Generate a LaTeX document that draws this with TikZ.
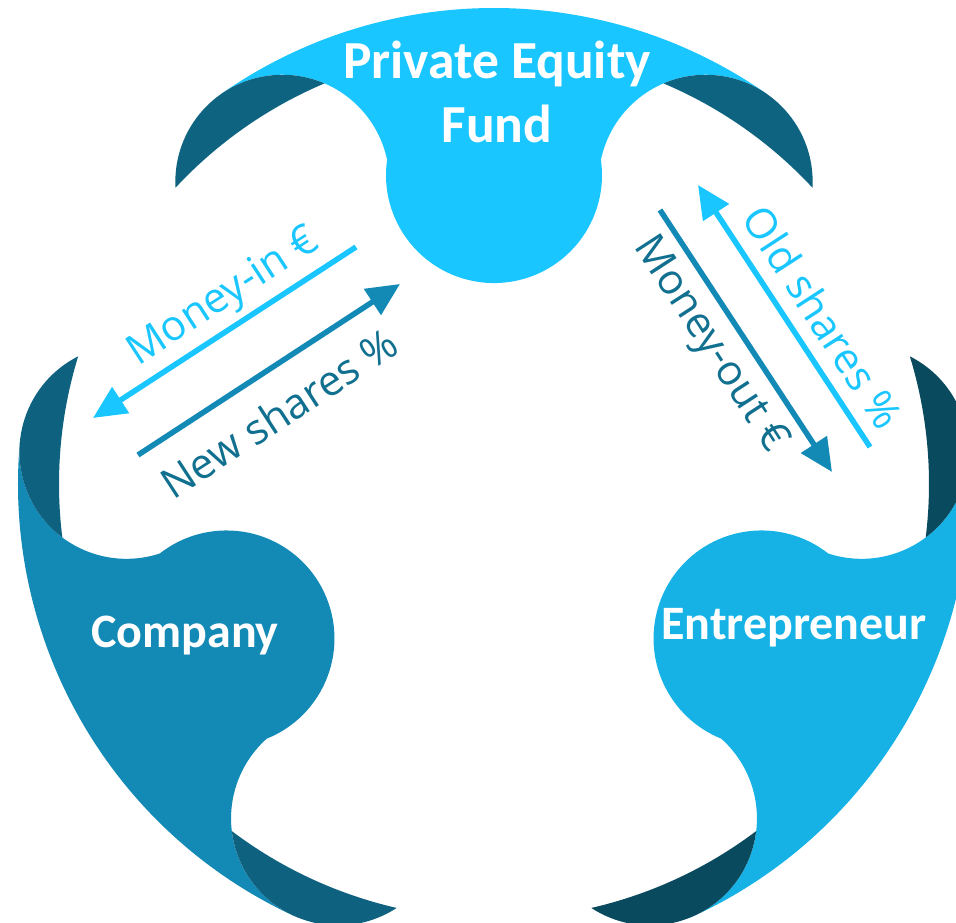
\documentclass[tikz,border=0pt]{standalone}
\usepackage{fontspec}
\setmainfont{Carlito}
\newfontfamily\flowfont{Open Sans}
\usetikzlibrary{calc,arrows.meta}
\definecolor{peLight}{HTML}{1AC6FF}
\definecolor{peDark}{HTML}{0E6380}
\definecolor{coLight}{HTML}{1389B5}
\definecolor{coDark}{HTML}{0E6280}
\definecolor{enLight}{HTML}{17B2E5}
\definecolor{enDark}{HTML}{0A4A5E}
\definecolor{txtTeal}{HTML}{11708F}
\newcommand{\ringpiece}[3]{%
  \fill[#2] ($(C)+({#1-35}:476)$) arc[start angle={#1-35}, end angle={#1+35}, radius=476]
    arc[start angle={#1+35}, end angle={#1-78.2}, radius=107]
    arc[start angle={#1+81.9}, end angle={#1+278.1}, radius=108]
    arc[start angle={#1+78.2}, end angle={#1-35}, radius=107] -- cycle;
  \fill[#3] ($(C)+({#1+22.93}:435)$) arc[start angle={#1+22.93}, end angle={#1+47.07}, radius=435]
    arc[start angle={#1+93.2}, end angle={#1-23.2}, radius=107] -- cycle;
  \fill[#3] ($(C)+({#1-22.93}:435)$) arc[start angle={#1-22.93}, end angle={#1-47.07}, radius=435]
    arc[start angle={#1-93.2}, end angle={#1+23.2}, radius=107] -- cycle;
}
\tikzset{
  nodelbl/.style={text=white, font=\bfseries\fontsize{48}{48}\selectfont, inner sep=0pt, anchor=base},
  pelbl/.style={nodelbl, font=\bfseries\fontsize{53.5}{53.5}\selectfont},
  flowlbl/.style={font=\flowfont\fontsize{42}{42}\selectfont, inner sep=0pt},
  flowarrow/.style={line width=5.5pt, -{Triangle[length=33pt,width=30pt]}},
}
\begin{document}
\begin{tikzpicture}[x=1pt,y=1pt]
\useasboundingbox (0,0) rectangle (956,923);
\clip (0,0) rectangle (956,923);
\coordinate (C) at (494,439);
\ringpiece{90}{peLight}{peDark}
\ringpiece{210}{coLight}{coDark}
\ringpiece{330}{enLight}{enDark}
\node[pelbl] (pe1) at (497,844) {Private Equity};
\node[pelbl] (pe2) at (497,780) {Fund};
\node[nodelbl] (co) at (185,275) {Company};
\node[nodelbl] (en) at (794,283) {Entrepreneur};
\coordinate (mi1) at (356,676);
\coordinate (mi2) at (93,505);
\coordinate (ns1) at (138,468);
\coordinate (ns2) at (400,639);
\coordinate (os1) at (870,476);
\coordinate (os2) at (698,738);
\coordinate (mo1) at (660,713);
\coordinate (mo2) at (832,451);
\draw[flowarrow, peLight] (mi1) -- (mi2);
\draw[flowarrow, coLight] (ns1) -- (ns2);
\draw[flowarrow, peLight] (os1) -- (os2);
\draw[flowarrow, coLight] (mo1) -- (mo2);
\node[flowlbl, text=peLight, rotate=33] (milbl) at (224,625) {Money-in €};
\node[flowlbl, text=txtTeal, rotate=33] (nslbl) at (279,510) {New shares \%};
\node[flowlbl, text=peLight, rotate=-57] (oslbl) at (823,606) {Old shares \%};
\node[flowlbl, text=txtTeal, rotate=-57] (molbl) at (710,578) {Money-out €};
\end{tikzpicture}
\end{document}
